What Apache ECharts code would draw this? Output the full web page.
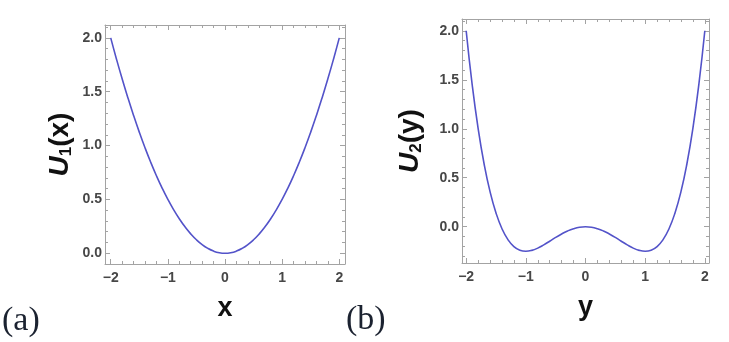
<!DOCTYPE html>
<html>
<head>
<meta charset="utf-8">
<script src="https://cdn.jsdelivr.net/npm/echarts@6/dist/echarts.min.js"></script>
<style>
  html, body { margin: 0; padding: 0; background: #fff; }
  #main { width: 729px; height: 342px; }
</style>
</head>
<body>
<div id="main"></div>
<script>
// Points (pas de 0.1)
const xValues = [-2, -1.9, -1.8, -1.7, -1.6, -1.5, -1.4, -1.3, -1.2, -1.1, -1, -0.9, -0.8, -0.7, -0.6, -0.5, -0.4, -0.3, -0.2, -0.1,
    0, 0.1, 0.2, 0.3, 0.4, 0.5, 0.6, 0.7, 0.8, 0.9, 1, 1.1, 1.2, 1.3, 1.4, 1.5, 1.6, 1.7, 1.8, 1.9, 2];
const u1Values = [2, 1.805, 1.62, 1.445, 1.28, 1.125, 0.98, 0.845, 0.72, 0.605, 0.5, 0.405, 0.32, 0.245, 0.18, 0.125, 0.08, 0.045, 0.02, 0.005,
    0, 0.005, 0.02, 0.045, 0.08, 0.125, 0.18, 0.245, 0.32, 0.405, 0.5, 0.605, 0.72, 0.845, 0.98, 1.125, 1.28, 1.445, 1.62, 1.805, 2];
const u2Values = [2, 1.453, 1.004, 0.643, 0.358, 0.141, -0.02, -0.131, -0.202, -0.239, -0.25, -0.241, -0.218, -0.185, -0.148, -0.109, -0.074, -0.043, -0.02, -0.005,
    0, -0.005, -0.02, -0.043, -0.074, -0.109, -0.148, -0.185, -0.218, -0.241, -0.25, -0.239, -0.202, -0.131, -0.02, 0.141, 0.358, 0.643, 1.004, 1.453, 2];

// Graduations
const xMajorTicks = [-2, -1, 0, 1, 2];
const xMinorTicks = [-1.8, -1.6, -1.4, -1.2, -0.8, -0.6, -0.4, -0.2, 0.2, 0.4, 0.6, 0.8, 1.2, 1.4, 1.6, 1.8];
const yMajorTicks = [0, 0.5, 1, 1.5, 2];
const y1MinorTicks = [0.1, 0.2, 0.3, 0.4, 0.6, 0.7, 0.8, 0.9, 1.1, 1.2, 1.3, 1.4, 1.6, 1.7, 1.8, 1.9, 2.1];
const y2MinorTicks = [-0.3, -0.2, -0.1, 0.1, 0.2, 0.3, 0.4, 0.6, 0.7, 0.8, 0.9, 1.1, 1.2, 1.3, 1.4, 1.6, 1.7, 1.8, 1.9, 2.1];

const FRAME = '#a3a3a3';
const LINE = '#5353c9';

function minusFmt(v, digits) {
    const s = Math.abs(v).toFixed(digits);
    return v < 0 ? '\u2212' + s : s;
}

/**
 * Axe de cadre : trait + graduations (majeures ou mineures)
 */
function frameAxis(gridIndex, position, min, max, ticks, len, showLine) {
    return {
        type: 'value', gridIndex: gridIndex, position: position, min: min, max: max,
        splitLine: { show: false },
        axisLine: { show: showLine, onZero: false, lineStyle: { color: FRAME, width: 1 } },
        axisTick: { show: true, inside: true, length: len, customValues: ticks, lineStyle: { color: FRAME, width: 1 } },
        axisLabel: { show: false }
    };
}

function nameRich() {
    return {
        u: { fontFamily: 'Liberation Sans', fontSize: 28, fontWeight: 'bold', fontStyle: 'italic', color: '#111' },
        s: { fontFamily: 'Liberation Sans', fontSize: 17, fontWeight: 'bold', color: '#111', verticalAlign: 'bottom', padding: [13, 0, 0, 0] },
        p: { fontFamily: 'Liberation Sans', fontSize: 28, fontWeight: 'bold', color: '#111' }
    };
}

const labelStyle = { fontFamily: 'Liberation Sans', fontSize: 14, fontWeight: 'bold', color: '#474747' };

function mainX(gridIndex, min, max, name) {
    const ax = frameAxis(gridIndex, 'bottom', min, max, xMajorTicks, 5, true);
    ax.axisLabel = Object.assign({ show: true, margin: 7, customValues: xMajorTicks, formatter: v => minusFmt(v, 0) }, labelStyle);
    ax.name = name;
    ax.nameLocation = 'middle';
    ax.nameGap = 31;
    ax.nameTextStyle = { fontFamily: 'Liberation Sans', fontSize: 27, fontWeight: 'bold', color: '#111' };
    return ax;
}

function mainY(gridIndex, min, max, name, gap) {
    const ax = frameAxis(gridIndex, 'left', min, max, yMajorTicks, 5, true);
    ax.axisLabel = Object.assign({ show: true, margin: 3, customValues: yMajorTicks, formatter: v => minusFmt(v, 1) }, labelStyle);
    ax.name = name;
    ax.nameLocation = 'middle';
    ax.nameGap = gap;
    ax.nameRotate = 90;
    ax.nameTextStyle = { rich: nameRich() };
    return ax;
}

const chart = echarts.init(document.getElementById('main'), null, { renderer: 'canvas' });

chart.setOption({
    animation: false,
    backgroundColor: '#fff',
    grid: [
        { left: 105, top: 25, width: 240, height: 239 },
        { left: 462, top: 19, width: 247, height: 244 }
    ],
    xAxis: [
        mainX(0, -2.1, 2.1, 'x'),
        frameAxis(0, 'bottom', -2.1, 2.1, xMinorTicks, 3, false),
        frameAxis(0, 'top', -2.1, 2.1, xMajorTicks, 5, true),
        frameAxis(0, 'top', -2.1, 2.1, xMinorTicks, 3, false),
        mainX(1, -2.07, 2.07, 'y'),
        frameAxis(1, 'bottom', -2.07, 2.07, xMinorTicks, 3, false),
        frameAxis(1, 'top', -2.07, 2.07, xMajorTicks, 5, true),
        frameAxis(1, 'top', -2.07, 2.07, xMinorTicks, 3, false)
    ],
    yAxis: [
        mainY(0, -0.1, 2.12, '{u|U}{s|1}{p|(x)}', 30),
        frameAxis(0, 'left', -0.1, 2.12, y1MinorTicks, 3, false),
        frameAxis(0, 'right', -0.1, 2.12, yMajorTicks, 5, true),
        frameAxis(0, 'right', -0.1, 2.12, y1MinorTicks, 3, false),
        mainY(1, -0.37, 2.12, '{u|U}{s|2}{p|(y)}', 37),
        frameAxis(1, 'left', -0.37, 2.12, y2MinorTicks, 3, false),
        frameAxis(1, 'right', -0.37, 2.12, yMajorTicks, 5, true),
        frameAxis(1, 'right', -0.37, 2.12, y2MinorTicks, 3, false)
    ],
    graphic: [
        { type: 'text', left: 2, top: 304, style: { text: '(a)', font: '34px "Liberation Serif"', fill: '#1b2230' } },
        { type: 'text', left: 346, top: 303, style: { text: '(b)', font: '34px "Liberation Serif"', fill: '#1b2230' } }
    ],
    series: [
        {
            type: 'line', xAxisIndex: 0, yAxisIndex: 0, smooth: true, showSymbol: false, silent: true,
            lineStyle: { color: LINE, width: 1.6 },
            data: xValues.map((x, i) => [x, u1Values[i]])
        },
        {
            type: 'line', xAxisIndex: 4, yAxisIndex: 4, smooth: true, showSymbol: false, silent: true,
            lineStyle: { color: LINE, width: 1.6 },
            data: xValues.map((x, i) => [x, u2Values[i]])
        }
    ]
});
</script>
</body>
</html>
